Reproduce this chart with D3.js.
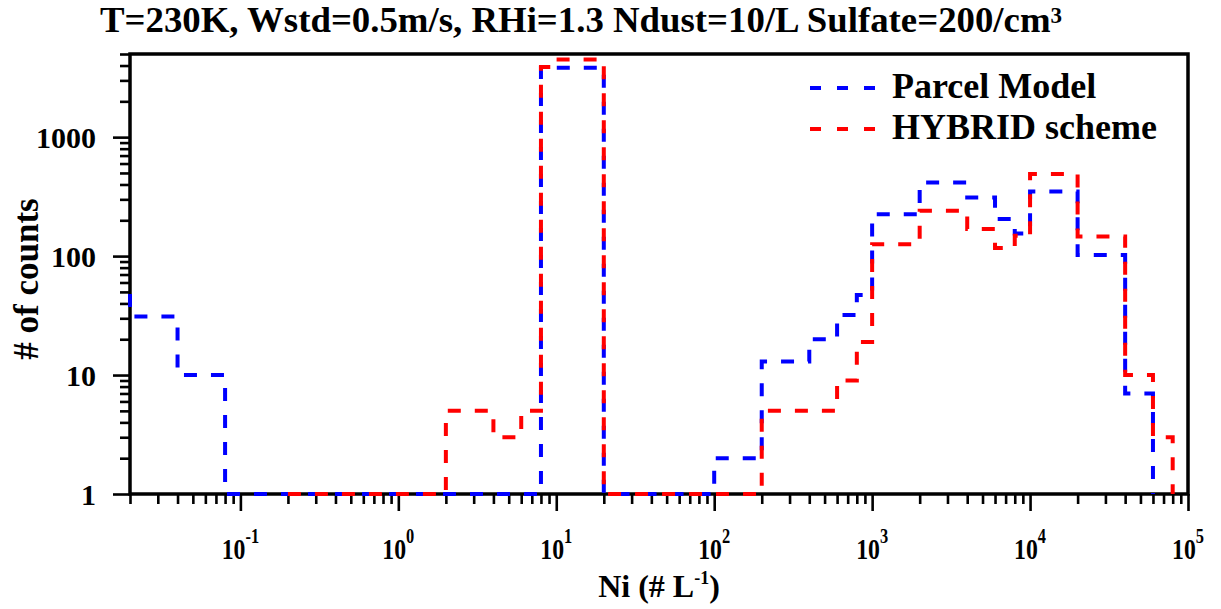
<!DOCTYPE html>
<html>
<head>
<meta charset="utf-8">
<script src="https://cdn.jsdelivr.net/npm/d3@7"></script>
<style>
  html, body { margin: 0; padding: 0; background: #fff; }
  svg { display: block; }
  text { font-family: "Liberation Serif", "Times New Roman", serif; font-weight: bold; fill: #000; }
</style>
</head>
<body>
<div id="chart"></div>
<script>
// ---- data ----
const binEdges = [0.01, 0.02, 0.04, 0.06, 0.08, 0.1, 0.2, 0.4, 0.6, 0.8, 1, 2, 4, 6, 8, 10, 20, 40, 60, 80, 100,
                  200, 400, 600, 800, 1000, 2000, 4000, 6000, 8000, 10000, 20000, 40000, 60000, 80000, 100000];
const parcelCounts = [48, 31, 10, 10, 1, 1, 1, 1, 1, 1, 1, 1, 1, 1, 3830, 3830, 1, 1, 1, 1, 2,
                      13, 20, 32, 47, 225, 415, 311, 205, 155, 349, 102, 7, null, null];
const hybridCounts = [null, null, null, null, null, null, 1, 1, 1, 1, 1, 5, 3, 5, 3880, 4500, 1, 1, 1, 1, 1,
                      5, 5, 9, 19, 126, 240, 169, 117, 148, 489, 146, 10, 3, null];
const seriesNames = ["Parcel Model", "HYBRID scheme"];
const seriesColors = ["#0000ff", "#ff0000"];
const xMajorTicks = [0.1, 1, 10, 100, 1000, 10000, 100000];
const xTickExponents = ["-1", "0", "1", "2", "3", "4", "5"];
const yMajorTicks = [1, 10, 100, 1000];
const xDomain = [0.02, 100000];
const yDomain = [1, 5000];
const titleMain = "T=230K, Wstd=0.5m/s, RHi=1.3 Ndust=10/L Sulfate=200/cm";
const titleSup = "3";

// ---- layout ----
const W = 1221, H = 609;
const L = 130, R = 1188, T = 54, B = 494;

const svg = d3.select("#chart").append("svg").attr("width", W).attr("height", H);

const x = d3.scaleLog().domain(xDomain).range([L, R]);
const y = d3.scaleLog().domain(yDomain).range([B, T]);

function minorTicks(domain) {
  const out = [];
  const lo = Math.floor(Math.log10(domain[0])), hi = Math.ceil(Math.log10(domain[1]));
  for (let e = lo; e <= hi; e++) {
    for (let m = 2; m <= 9; m++) {
      const v = m * Math.pow(10, e);
      if (v >= domain[0] * 0.9999 && v <= domain[1] * 1.0001) out.push(v);
    }
  }
  return out;
}

const axisStroke = 3.5, tickStroke = 2.6;

// x axis: minor + major ticks
const gx = svg.append("g").attr("transform", `translate(0,${B})`);
gx.append("g").call(d3.axisBottom(x).tickValues(minorTicks(xDomain)).tickSize(10).tickFormat(""))
  .call(g => g.select(".domain").remove());
gx.append("g").call(d3.axisBottom(x).tickValues(xMajorTicks).tickSize(17).tickFormat(""))
  .call(g => g.select(".domain").remove());
gx.selectAll(".tick line").attr("stroke", "#000").attr("stroke-width", tickStroke);

// x tick labels 10^n (slightly condensed, as in the reference)
xMajorTicks.forEach((v, i) => {
  const t = svg.append("text").attr("transform", `translate(${x(v)},559) scale(0.82,1)`)
    .attr("text-anchor", "middle").style("font-size", "29px");
  t.append("tspan").text("10");
  t.append("tspan").attr("dy", -16).style("font-size", "20px").text(xTickExponents[i]);
});

// y axis
const gy = svg.append("g").attr("transform", `translate(${L},0)`);
gy.append("g").call(d3.axisLeft(y).tickValues(minorTicks(yDomain)).tickSize(10).tickFormat(""))
  .call(g => g.select(".domain").remove());
gy.append("g").call(d3.axisLeft(y).tickValues(yMajorTicks).tickSize(17).tickPadding(17).tickFormat(d3.format("d")))
  .call(g => g.select(".domain").remove());
gy.selectAll(".tick line").attr("stroke", "#000").attr("stroke-width", tickStroke);
gy.selectAll(".tick text").attr("fill", "#000")
  .style("font-family", '"Liberation Serif", serif').style("font-weight", "bold").style("font-size", "30px")
  .attr("dy", "0.34em");

// frame
svg.append("rect").attr("x", L).attr("y", T).attr("width", R - L).attr("height", B - T)
  .attr("fill", "none").attr("stroke", "#000").attr("stroke-width", axisStroke);

// clip
svg.append("clipPath").attr("id", "plotclip").append("rect")
  .attr("x", L - 3).attr("y", T).attr("width", R - L + 3).attr("height", B - T + 3);

// step lines
const dashPeriod = 27;
function stepPoints(counts) {
  const pts = [];
  let lastIdx = -1;
  counts.forEach((c, i) => {
    if (c !== null) { pts.push([binEdges[i], c]); lastIdx = i; }
  });
  pts.push([binEdges[lastIdx + 1], counts[lastIdx]]);
  pts.push([binEdges[lastIdx + 1], 1]);
  return pts;
}
const line = d3.line().x(d => x(d[0])).y(d => y(d[1])).curve(d3.curveStepAfter);

const plot = svg.append("g").attr("clip-path", "url(#plotclip)");
[parcelCounts, hybridCounts].forEach((counts, si) => {
  const pts = stepPoints(counts);
  const lead = x(Math.max(pts[0][0], xDomain[0])) - x(pts[0][0]);
  plot.append("path").attr("d", line(pts))
    .attr("fill", "none").attr("stroke", seriesColors[si]).attr("stroke-width", 4)
    .attr("stroke-dasharray", "13,14")
    .attr("stroke-dashoffset", ((dashPeriod - (lead % dashPeriod)) % dashPeriod));
});

// legend
const legendY = [88, 129];
const legendTextY = [98, 139];
seriesNames.forEach((name, i) => {
  svg.append("line").attr("x1", 810).attr("x2", 876).attr("y1", legendY[i]).attr("y2", legendY[i])
    .attr("stroke", seriesColors[i]).attr("stroke-width", 4).attr("stroke-dasharray", "11,16");
  svg.append("text").attr("x", 892).attr("y", legendTextY[i]).style("font-size", "36px").text(name);
});

// title
const title = svg.append("text").attr("x", 100).attr("y", 32).style("font-size", "36.8px");
title.append("tspan").text(titleMain);
title.append("tspan").attr("dy", -9).style("font-size", "23px").text(titleSup);

// axis titles
const xl = svg.append("text").attr("x", (L + R) / 2).attr("y", 597).attr("text-anchor", "middle")
  .style("font-size", "32px");
xl.append("tspan").text("Ni (# L");
xl.append("tspan").attr("dy", -13).style("font-size", "18px").text("-1");
xl.append("tspan").attr("dy", 13).text(")");

svg.append("text").attr("transform", `translate(38,279) rotate(-90)`).attr("text-anchor", "middle")
  .style("font-size", "35px").text("# of counts");
</script>
</body>
</html>
